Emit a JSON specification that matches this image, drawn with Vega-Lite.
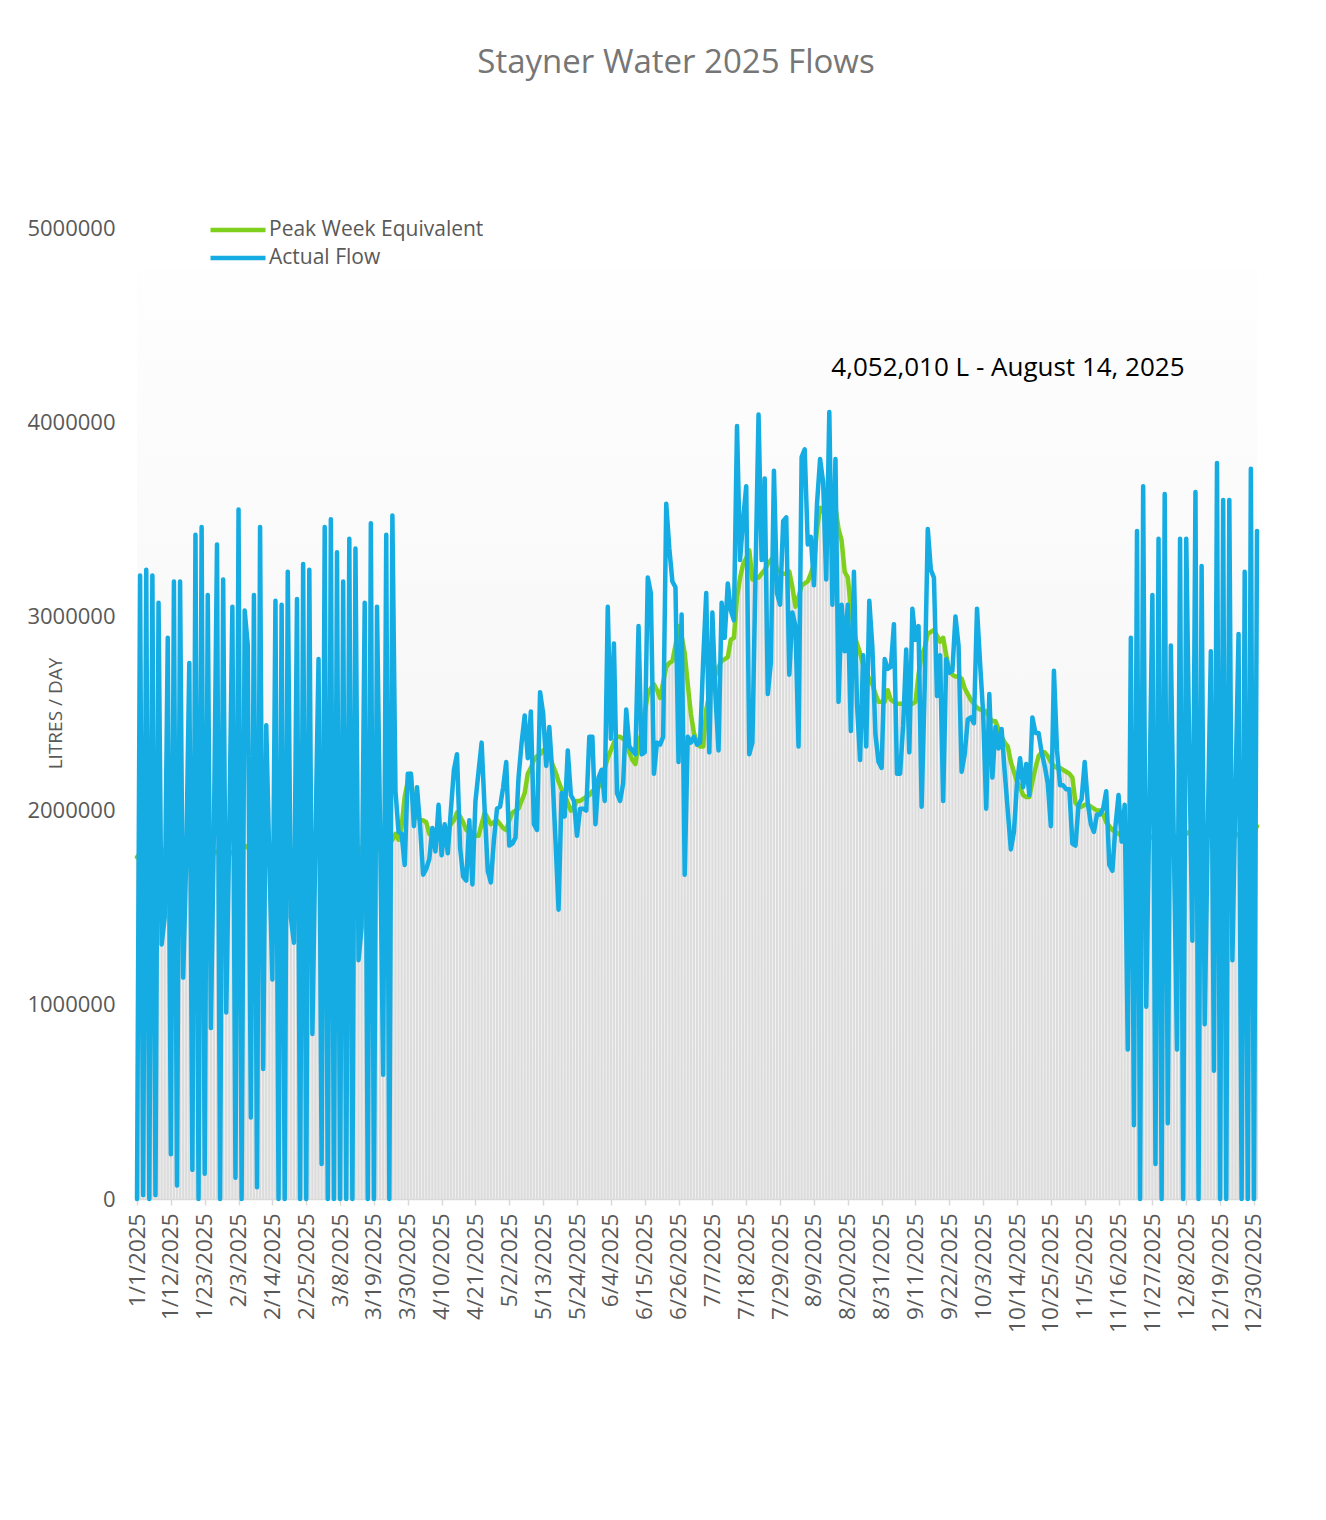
{
"$schema": "https://vega.github.io/schema/vega-lite/v6.json",
"width": 1120,
"height": 971,
"autosize": {"type": "none"},
"padding": {"left": 137, "top": 228, "right": 69, "bottom": 321},
"background": "white",
"config": {"view": {"stroke": null, "fill": {"gradient": "linear", "x1": 0, "y1": 0, "x2": 0, "y2": 1, "stops": [{"offset": 0, "color": "#ffffff"}, {"offset": 0.043, "color": "#ffffff"}, {"offset": 0.044, "color": "#fefefe"}, {"offset": 1, "color": "#f1f1f1"}]}}, "font": "Open Sans"},
"title": {"text": "Stayner Water 2025 Flows", "fontSize": 33, "font": "Open Sans", "fontWeight": "normal", "color": "#767676", "anchor": "middle", "offset": 137, "dx": -21},
"data": {"values": [
{"date":"1/1/2025","actual":0,"peak":1760000},
{"date":"1/2/2025","actual":3210000,"peak":1780000},
{"date":"1/3/2025","actual":20000,"peak":1800000},
{"date":"1/4/2025","actual":3240000,"peak":1810000},
{"date":"1/5/2025","actual":0,"peak":1800000},
{"date":"1/6/2025","actual":3210000,"peak":1790000},
{"date":"1/7/2025","actual":20000,"peak":1780000},
{"date":"1/8/2025","actual":3070000,"peak":1770000},
{"date":"1/9/2025","actual":1310000,"peak":1780000},
{"date":"1/10/2025","actual":1450000,"peak":1800000},
{"date":"1/11/2025","actual":2890000,"peak":1810000},
{"date":"1/12/2025","actual":230000,"peak":1800000},
{"date":"1/13/2025","actual":3180000,"peak":1790000},
{"date":"1/14/2025","actual":70000,"peak":1780000},
{"date":"1/15/2025","actual":3180000,"peak":1790000},
{"date":"1/16/2025","actual":1140000,"peak":1800000},
{"date":"1/17/2025","actual":1750000,"peak":1810000},
{"date":"1/18/2025","actual":2760000,"peak":1800000},
{"date":"1/19/2025","actual":150000,"peak":1790000},
{"date":"1/20/2025","actual":3420000,"peak":1780000},
{"date":"1/21/2025","actual":0,"peak":1790000},
{"date":"1/22/2025","actual":3460000,"peak":1800000},
{"date":"1/23/2025","actual":130000,"peak":1810000},
{"date":"1/24/2025","actual":3110000,"peak":1800000},
{"date":"1/25/2025","actual":880000,"peak":1790000},
{"date":"1/26/2025","actual":1900000,"peak":1780000},
{"date":"1/27/2025","actual":3370000,"peak":1790000},
{"date":"1/28/2025","actual":0,"peak":1800000},
{"date":"1/29/2025","actual":3190000,"peak":1810000},
{"date":"1/30/2025","actual":960000,"peak":1800000},
{"date":"1/31/2025","actual":1900000,"peak":1790000},
{"date":"2/1/2025","actual":3050000,"peak":1780000},
{"date":"2/2/2025","actual":110000,"peak":1790000},
{"date":"2/3/2025","actual":3550000,"peak":1800000},
{"date":"2/4/2025","actual":0,"peak":1810000},
{"date":"2/5/2025","actual":3030000,"peak":1820000},
{"date":"2/6/2025","actual":2850000,"peak":1810000},
{"date":"2/7/2025","actual":420000,"peak":1800000},
{"date":"2/8/2025","actual":3110000,"peak":1790000},
{"date":"2/9/2025","actual":60000,"peak":1780000},
{"date":"2/10/2025","actual":3460000,"peak":1790000},
{"date":"2/11/2025","actual":670000,"peak":1800000},
{"date":"2/12/2025","actual":2440000,"peak":1810000},
{"date":"2/13/2025","actual":1750000,"peak":1800000},
{"date":"2/14/2025","actual":1130000,"peak":1790000},
{"date":"2/15/2025","actual":3080000,"peak":1780000},
{"date":"2/16/2025","actual":0,"peak":1790000},
{"date":"2/17/2025","actual":3060000,"peak":1800000},
{"date":"2/18/2025","actual":0,"peak":1810000},
{"date":"2/19/2025","actual":3230000,"peak":1800000},
{"date":"2/20/2025","actual":1450000,"peak":1790000},
{"date":"2/21/2025","actual":1320000,"peak":1780000},
{"date":"2/22/2025","actual":3090000,"peak":1790000},
{"date":"2/23/2025","actual":0,"peak":1800000},
{"date":"2/24/2025","actual":3270000,"peak":1810000},
{"date":"2/25/2025","actual":0,"peak":1800000},
{"date":"2/26/2025","actual":3240000,"peak":1790000},
{"date":"2/27/2025","actual":850000,"peak":1780000},
{"date":"2/28/2025","actual":1850000,"peak":1790000},
{"date":"3/1/2025","actual":2780000,"peak":1800000},
{"date":"3/2/2025","actual":180000,"peak":1810000},
{"date":"3/3/2025","actual":3460000,"peak":1800000},
{"date":"3/4/2025","actual":0,"peak":1790000},
{"date":"3/5/2025","actual":3500000,"peak":1780000},
{"date":"3/6/2025","actual":0,"peak":1790000},
{"date":"3/7/2025","actual":3330000,"peak":1800000},
{"date":"3/8/2025","actual":0,"peak":1810000},
{"date":"3/9/2025","actual":3180000,"peak":1800000},
{"date":"3/10/2025","actual":0,"peak":1790000},
{"date":"3/11/2025","actual":3400000,"peak":1780000},
{"date":"3/12/2025","actual":0,"peak":1790000},
{"date":"3/13/2025","actual":3350000,"peak":1800000},
{"date":"3/14/2025","actual":1230000,"peak":1810000},
{"date":"3/15/2025","actual":1400000,"peak":1800000},
{"date":"3/16/2025","actual":3070000,"peak":1790000},
{"date":"3/17/2025","actual":0,"peak":1800000},
{"date":"3/18/2025","actual":3480000,"peak":1810000},
{"date":"3/19/2025","actual":0,"peak":1820000},
{"date":"3/20/2025","actual":3050000,"peak":1810000},
{"date":"3/21/2025","actual":1900000,"peak":1800000},
{"date":"3/22/2025","actual":640000,"peak":1810000},
{"date":"3/23/2025","actual":3420000,"peak":1820000},
{"date":"3/24/2025","actual":0,"peak":1830000},
{"date":"3/25/2025","actual":3520000,"peak":1850000},
{"date":"3/26/2025","actual":2100000,"peak":1880000},
{"date":"3/27/2025","actual":1890000,"peak":1850000},
{"date":"3/28/2025","actual":1880000,"peak":1920000},
{"date":"3/29/2025","actual":1720000,"peak":2070000},
{"date":"3/30/2025","actual":2190000,"peak":2150000},
{"date":"3/31/2025","actual":2190000,"peak":2190000},
{"date":"4/1/2025","actual":1920000,"peak":2000000},
{"date":"4/2/2025","actual":2120000,"peak":1970000},
{"date":"4/3/2025","actual":1920000,"peak":1950000},
{"date":"4/4/2025","actual":1670000,"peak":1950000},
{"date":"4/5/2025","actual":1700000,"peak":1940000},
{"date":"4/6/2025","actual":1750000,"peak":1880000},
{"date":"4/7/2025","actual":1910000,"peak":1870000},
{"date":"4/8/2025","actual":1790000,"peak":1870000},
{"date":"4/9/2025","actual":2030000,"peak":1870000},
{"date":"4/10/2025","actual":1770000,"peak":1880000},
{"date":"4/11/2025","actual":1930000,"peak":1880000},
{"date":"4/12/2025","actual":1780000,"peak":1900000},
{"date":"4/13/2025","actual":2000000,"peak":1930000},
{"date":"4/14/2025","actual":2210000,"peak":1950000},
{"date":"4/15/2025","actual":2290000,"peak":1990000},
{"date":"4/16/2025","actual":1810000,"peak":1970000},
{"date":"4/17/2025","actual":1660000,"peak":1940000},
{"date":"4/18/2025","actual":1640000,"peak":1900000},
{"date":"4/19/2025","actual":1950000,"peak":1890000},
{"date":"4/20/2025","actual":1620000,"peak":1870000},
{"date":"4/21/2025","actual":2050000,"peak":1870000},
{"date":"4/22/2025","actual":2200000,"peak":1870000},
{"date":"4/23/2025","actual":2350000,"peak":1930000},
{"date":"4/24/2025","actual":2000000,"peak":1990000},
{"date":"4/25/2025","actual":1690000,"peak":1960000},
{"date":"4/26/2025","actual":1630000,"peak":1930000},
{"date":"4/27/2025","actual":1850000,"peak":1940000},
{"date":"4/28/2025","actual":2010000,"peak":1950000},
{"date":"4/29/2025","actual":2020000,"peak":1930000},
{"date":"4/30/2025","actual":2120000,"peak":1910000},
{"date":"5/1/2025","actual":2250000,"peak":1900000},
{"date":"5/2/2025","actual":1820000,"peak":1950000},
{"date":"5/3/2025","actual":1830000,"peak":1990000},
{"date":"5/4/2025","actual":1860000,"peak":2000000},
{"date":"5/5/2025","actual":2170000,"peak":2010000},
{"date":"5/6/2025","actual":2350000,"peak":2050000},
{"date":"5/7/2025","actual":2490000,"peak":2090000},
{"date":"5/8/2025","actual":2270000,"peak":2190000},
{"date":"5/9/2025","actual":2510000,"peak":2220000},
{"date":"5/10/2025","actual":1930000,"peak":2260000},
{"date":"5/11/2025","actual":1900000,"peak":2280000},
{"date":"5/12/2025","actual":2610000,"peak":2290000},
{"date":"5/13/2025","actual":2500000,"peak":2310000},
{"date":"5/14/2025","actual":2230000,"peak":2300000},
{"date":"5/15/2025","actual":2430000,"peak":2280000},
{"date":"5/16/2025","actual":2190000,"peak":2240000},
{"date":"5/17/2025","actual":1850000,"peak":2200000},
{"date":"5/18/2025","actual":1490000,"peak":2150000},
{"date":"5/19/2025","actual":2090000,"peak":2110000},
{"date":"5/20/2025","actual":1970000,"peak":2080000},
{"date":"5/21/2025","actual":2310000,"peak":2040000},
{"date":"5/22/2025","actual":2080000,"peak":2000000},
{"date":"5/23/2025","actual":2050000,"peak":2020000},
{"date":"5/24/2025","actual":1870000,"peak":2050000},
{"date":"5/25/2025","actual":2010000,"peak":2050000},
{"date":"5/26/2025","actual":2010000,"peak":2060000},
{"date":"5/27/2025","actual":2000000,"peak":2070000},
{"date":"5/28/2025","actual":2380000,"peak":2080000},
{"date":"5/29/2025","actual":2380000,"peak":2100000},
{"date":"5/30/2025","actual":1930000,"peak":2110000},
{"date":"5/31/2025","actual":2170000,"peak":2120000},
{"date":"6/1/2025","actual":2210000,"peak":2170000},
{"date":"6/2/2025","actual":2050000,"peak":2220000},
{"date":"6/3/2025","actual":3050000,"peak":2270000},
{"date":"6/4/2025","actual":2370000,"peak":2310000},
{"date":"6/5/2025","actual":2860000,"peak":2350000},
{"date":"6/6/2025","actual":2090000,"peak":2380000},
{"date":"6/7/2025","actual":2050000,"peak":2380000},
{"date":"6/8/2025","actual":2140000,"peak":2370000},
{"date":"6/9/2025","actual":2520000,"peak":2360000},
{"date":"6/10/2025","actual":2330000,"peak":2300000},
{"date":"6/11/2025","actual":2310000,"peak":2260000},
{"date":"6/12/2025","actual":2290000,"peak":2240000},
{"date":"6/13/2025","actual":2950000,"peak":2350000},
{"date":"6/14/2025","actual":2290000,"peak":2400000},
{"date":"6/15/2025","actual":2300000,"peak":2500000},
{"date":"6/16/2025","actual":3200000,"peak":2600000},
{"date":"6/17/2025","actual":3120000,"peak":2630000},
{"date":"6/18/2025","actual":2190000,"peak":2650000},
{"date":"6/19/2025","actual":2350000,"peak":2620000},
{"date":"6/20/2025","actual":2340000,"peak":2580000},
{"date":"6/21/2025","actual":2380000,"peak":2660000},
{"date":"6/22/2025","actual":3580000,"peak":2740000},
{"date":"6/23/2025","actual":3350000,"peak":2760000},
{"date":"6/24/2025","actual":3180000,"peak":2770000},
{"date":"6/25/2025","actual":3150000,"peak":2850000},
{"date":"6/26/2025","actual":2250000,"peak":2950000},
{"date":"6/27/2025","actual":3010000,"peak":2900000},
{"date":"6/28/2025","actual":1670000,"peak":2810000},
{"date":"6/29/2025","actual":2380000,"peak":2650000},
{"date":"6/30/2025","actual":2350000,"peak":2500000},
{"date":"7/1/2025","actual":2380000,"peak":2400000},
{"date":"7/2/2025","actual":2340000,"peak":2350000},
{"date":"7/3/2025","actual":2350000,"peak":2330000},
{"date":"7/4/2025","actual":2770000,"peak":2330000},
{"date":"7/5/2025","actual":3120000,"peak":2520000},
{"date":"7/6/2025","actual":2300000,"peak":2600000},
{"date":"7/7/2025","actual":3020000,"peak":2650000},
{"date":"7/8/2025","actual":2590000,"peak":2700000},
{"date":"7/9/2025","actual":2310000,"peak":2740000},
{"date":"7/10/2025","actual":3070000,"peak":2770000},
{"date":"7/11/2025","actual":2890000,"peak":2780000},
{"date":"7/12/2025","actual":3170000,"peak":2790000},
{"date":"7/13/2025","actual":3030000,"peak":2880000},
{"date":"7/14/2025","actual":2980000,"peak":2890000},
{"date":"7/15/2025","actual":3980000,"peak":3100000},
{"date":"7/16/2025","actual":3290000,"peak":3200000},
{"date":"7/17/2025","actual":3500000,"peak":3270000},
{"date":"7/18/2025","actual":3670000,"peak":3300000},
{"date":"7/19/2025","actual":2290000,"peak":3340000},
{"date":"7/20/2025","actual":2350000,"peak":3190000},
{"date":"7/21/2025","actual":3200000,"peak":3200000},
{"date":"7/22/2025","actual":4040000,"peak":3200000},
{"date":"7/23/2025","actual":3290000,"peak":3220000},
{"date":"7/24/2025","actual":3710000,"peak":3240000},
{"date":"7/25/2025","actual":2600000,"peak":3270000},
{"date":"7/26/2025","actual":2760000,"peak":3290000},
{"date":"7/27/2025","actual":3750000,"peak":3310000},
{"date":"7/28/2025","actual":3120000,"peak":3240000},
{"date":"7/29/2025","actual":3060000,"peak":3230000},
{"date":"7/30/2025","actual":3490000,"peak":3220000},
{"date":"7/31/2025","actual":3510000,"peak":3220000},
{"date":"8/1/2025","actual":2700000,"peak":3230000},
{"date":"8/2/2025","actual":3020000,"peak":3150000},
{"date":"8/3/2025","actual":2950000,"peak":3050000},
{"date":"8/4/2025","actual":2330000,"peak":3100000},
{"date":"8/5/2025","actual":3820000,"peak":3160000},
{"date":"8/6/2025","actual":3860000,"peak":3170000},
{"date":"8/7/2025","actual":3370000,"peak":3180000},
{"date":"8/8/2025","actual":3410000,"peak":3220000},
{"date":"8/9/2025","actual":3160000,"peak":3270000},
{"date":"8/10/2025","actual":3580000,"peak":3450000},
{"date":"8/11/2025","actual":3810000,"peak":3560000},
{"date":"8/12/2025","actual":3690000,"peak":3540000},
{"date":"8/13/2025","actual":3190000,"peak":3530000},
{"date":"8/14/2025","actual":4052010,"peak":3540000},
{"date":"8/15/2025","actual":3060000,"peak":3560000},
{"date":"8/16/2025","actual":3810000,"peak":3560000},
{"date":"8/17/2025","actual":2560000,"peak":3450000},
{"date":"8/18/2025","actual":3060000,"peak":3390000},
{"date":"8/19/2025","actual":2820000,"peak":3230000},
{"date":"8/20/2025","actual":3060000,"peak":3200000},
{"date":"8/21/2025","actual":2410000,"peak":3050000},
{"date":"8/22/2025","actual":3230000,"peak":2910000},
{"date":"8/23/2025","actual":2550000,"peak":2860000},
{"date":"8/24/2025","actual":2260000,"peak":2810000},
{"date":"8/25/2025","actual":2800000,"peak":2750000},
{"date":"8/26/2025","actual":2330000,"peak":2710000},
{"date":"8/27/2025","actual":3080000,"peak":2680000},
{"date":"8/28/2025","actual":2840000,"peak":2650000},
{"date":"8/29/2025","actual":2390000,"peak":2600000},
{"date":"8/30/2025","actual":2250000,"peak":2560000},
{"date":"8/31/2025","actual":2220000,"peak":2560000},
{"date":"9/1/2025","actual":2780000,"peak":2560000},
{"date":"9/2/2025","actual":2730000,"peak":2620000},
{"date":"9/3/2025","actual":2740000,"peak":2570000},
{"date":"9/4/2025","actual":2960000,"peak":2560000},
{"date":"9/5/2025","actual":2190000,"peak":2550000},
{"date":"9/6/2025","actual":2190000,"peak":2550000},
{"date":"9/7/2025","actual":2440000,"peak":2550000},
{"date":"9/8/2025","actual":2830000,"peak":2550000},
{"date":"9/9/2025","actual":2300000,"peak":2550000},
{"date":"9/10/2025","actual":3040000,"peak":2550000},
{"date":"9/11/2025","actual":2880000,"peak":2560000},
{"date":"9/12/2025","actual":2950000,"peak":2700000},
{"date":"9/13/2025","actual":2020000,"peak":2800000},
{"date":"9/14/2025","actual":2640000,"peak":2840000},
{"date":"9/15/2025","actual":3450000,"peak":2910000},
{"date":"9/16/2025","actual":3240000,"peak":2920000},
{"date":"9/17/2025","actual":3200000,"peak":2930000},
{"date":"9/18/2025","actual":2590000,"peak":2900000},
{"date":"9/19/2025","actual":2800000,"peak":2870000},
{"date":"9/20/2025","actual":2050000,"peak":2890000},
{"date":"9/21/2025","actual":2780000,"peak":2800000},
{"date":"9/22/2025","actual":2710000,"peak":2720000},
{"date":"9/23/2025","actual":2720000,"peak":2700000},
{"date":"9/24/2025","actual":3000000,"peak":2690000},
{"date":"9/25/2025","actual":2850000,"peak":2690000},
{"date":"9/26/2025","actual":2200000,"peak":2680000},
{"date":"9/27/2025","actual":2290000,"peak":2630000},
{"date":"9/28/2025","actual":2470000,"peak":2600000},
{"date":"9/29/2025","actual":2480000,"peak":2570000},
{"date":"9/30/2025","actual":2450000,"peak":2550000},
{"date":"10/1/2025","actual":3040000,"peak":2530000},
{"date":"10/2/2025","actual":2760000,"peak":2520000},
{"date":"10/3/2025","actual":2500000,"peak":2520000},
{"date":"10/4/2025","actual":2010000,"peak":2510000},
{"date":"10/5/2025","actual":2600000,"peak":2480000},
{"date":"10/6/2025","actual":2170000,"peak":2460000},
{"date":"10/7/2025","actual":2430000,"peak":2460000},
{"date":"10/8/2025","actual":2320000,"peak":2420000},
{"date":"10/9/2025","actual":2420000,"peak":2380000},
{"date":"10/10/2025","actual":2200000,"peak":2350000},
{"date":"10/11/2025","actual":2000000,"peak":2330000},
{"date":"10/12/2025","actual":1800000,"peak":2250000},
{"date":"10/13/2025","actual":1890000,"peak":2200000},
{"date":"10/14/2025","actual":2140000,"peak":2150000},
{"date":"10/15/2025","actual":2270000,"peak":2120000},
{"date":"10/16/2025","actual":2120000,"peak":2080000},
{"date":"10/17/2025","actual":2240000,"peak":2070000},
{"date":"10/18/2025","actual":2080000,"peak":2070000},
{"date":"10/19/2025","actual":2480000,"peak":2150000},
{"date":"10/20/2025","actual":2400000,"peak":2220000},
{"date":"10/21/2025","actual":2400000,"peak":2280000},
{"date":"10/22/2025","actual":2300000,"peak":2300000},
{"date":"10/23/2025","actual":2230000,"peak":2300000},
{"date":"10/24/2025","actual":2140000,"peak":2280000},
{"date":"10/25/2025","actual":1920000,"peak":2250000},
{"date":"10/26/2025","actual":2720000,"peak":2230000},
{"date":"10/27/2025","actual":2310000,"peak":2220000},
{"date":"10/28/2025","actual":2130000,"peak":2220000},
{"date":"10/29/2025","actual":2130000,"peak":2210000},
{"date":"10/30/2025","actual":2110000,"peak":2200000},
{"date":"10/31/2025","actual":2110000,"peak":2190000},
{"date":"11/1/2025","actual":1830000,"peak":2170000},
{"date":"11/2/2025","actual":1820000,"peak":2040000},
{"date":"11/3/2025","actual":2030000,"peak":2020000},
{"date":"11/4/2025","actual":2060000,"peak":2020000},
{"date":"11/5/2025","actual":2250000,"peak":2030000},
{"date":"11/6/2025","actual":2040000,"peak":2030000},
{"date":"11/7/2025","actual":1930000,"peak":2020000},
{"date":"11/8/2025","actual":1890000,"peak":2010000},
{"date":"11/9/2025","actual":1980000,"peak":2000000},
{"date":"11/10/2025","actual":1980000,"peak":2000000},
{"date":"11/11/2025","actual":2010000,"peak":1980000},
{"date":"11/12/2025","actual":2100000,"peak":1940000},
{"date":"11/13/2025","actual":1720000,"peak":1920000},
{"date":"11/14/2025","actual":1690000,"peak":1900000},
{"date":"11/15/2025","actual":1920000,"peak":1890000},
{"date":"11/16/2025","actual":2080000,"peak":1880000},
{"date":"11/17/2025","actual":1840000,"peak":1870000},
{"date":"11/18/2025","actual":2030000,"peak":1870000},
{"date":"11/19/2025","actual":770000,"peak":1860000},
{"date":"11/20/2025","actual":2890000,"peak":1860000},
{"date":"11/21/2025","actual":380000,"peak":1870000},
{"date":"11/22/2025","actual":3440000,"peak":1880000},
{"date":"11/23/2025","actual":0,"peak":1880000},
{"date":"11/24/2025","actual":3670000,"peak":1890000},
{"date":"11/25/2025","actual":990000,"peak":1880000},
{"date":"11/26/2025","actual":2000000,"peak":1870000},
{"date":"11/27/2025","actual":3110000,"peak":1860000},
{"date":"11/28/2025","actual":180000,"peak":1860000},
{"date":"11/29/2025","actual":3400000,"peak":1870000},
{"date":"11/30/2025","actual":0,"peak":1880000},
{"date":"12/1/2025","actual":3630000,"peak":1880000},
{"date":"12/2/2025","actual":390000,"peak":1890000},
{"date":"12/3/2025","actual":2850000,"peak":1880000},
{"date":"12/4/2025","actual":1800000,"peak":1870000},
{"date":"12/5/2025","actual":770000,"peak":1860000},
{"date":"12/6/2025","actual":3400000,"peak":1860000},
{"date":"12/7/2025","actual":0,"peak":1870000},
{"date":"12/8/2025","actual":3400000,"peak":1880000},
{"date":"12/9/2025","actual":2300000,"peak":1890000},
{"date":"12/10/2025","actual":1330000,"peak":1900000},
{"date":"12/11/2025","actual":3640000,"peak":1890000},
{"date":"12/12/2025","actual":0,"peak":1880000},
{"date":"12/13/2025","actual":3260000,"peak":1870000},
{"date":"12/14/2025","actual":900000,"peak":1860000},
{"date":"12/15/2025","actual":1900000,"peak":1870000},
{"date":"12/16/2025","actual":2820000,"peak":1880000},
{"date":"12/17/2025","actual":660000,"peak":1890000},
{"date":"12/18/2025","actual":3790000,"peak":1900000},
{"date":"12/19/2025","actual":0,"peak":1890000},
{"date":"12/20/2025","actual":3600000,"peak":1880000},
{"date":"12/21/2025","actual":0,"peak":1870000},
{"date":"12/22/2025","actual":3600000,"peak":1860000},
{"date":"12/23/2025","actual":1230000,"peak":1860000},
{"date":"12/24/2025","actual":2100000,"peak":1870000},
{"date":"12/25/2025","actual":2910000,"peak":1880000},
{"date":"12/26/2025","actual":0,"peak":1890000},
{"date":"12/27/2025","actual":3230000,"peak":1900000},
{"date":"12/28/2025","actual":0,"peak":1890000},
{"date":"12/29/2025","actual":3760000,"peak":1880000},
{"date":"12/30/2025","actual":0,"peak":1890000},
{"date":"12/31/2025","actual":3440000,"peak":1920000}
]},
"layer": [
{
"mark": {"type": "bar", "width": 2.2, "color": "#dcdcdc"},
"encoding": {
"x": {"field": "date", "type": "ordinal", "sort": null, "scale": {"type": "point", "padding": 0},
"axis": {"values": ["1/1/2025","1/12/2025","1/23/2025","2/3/2025","2/14/2025","2/25/2025","3/8/2025","3/19/2025","3/30/2025","4/10/2025","4/21/2025","5/2/2025","5/13/2025","5/24/2025","6/4/2025","6/15/2025","6/26/2025","7/7/2025","7/18/2025","7/29/2025","8/9/2025","8/20/2025","8/31/2025","9/11/2025","9/22/2025","10/3/2025","10/14/2025","10/25/2025","11/5/2025","11/16/2025","11/27/2025","12/8/2025","12/19/2025","12/30/2025"],
"title": null, "labelAngle": -90, "labelAlign": "right", "labelBaseline": "middle", "labelFontSize": 22.5, "labelColor": "#595959", "labelPadding": 8, "tickColor": "#d9d9d9", "tickSize": 6, "tickWidth": 1.5, "domainColor": "#d9d9d9", "domainWidth": 1.5, "grid": false, "labelOverlap": false}},
"y": {"field": "peak", "type": "quantitative", "title": "LITRES / DAY", "scale": {"domain": [0, 5000000], "nice": false},
"axis": {"values": [0, 1000000, 2000000, 3000000, 4000000, 5000000], "format": "d", "labelFontSize": 22, "labelColor": "#595959", "labelPadding": 22, "ticks": false, "domain": false, "grid": false, "titleFontSize": 19, "titleFontWeight": "normal", "titleColor": "#595959", "titleX": -82, "titleY": 485, "titleAngle": -90, "titleAlign": "center", "titleBaseline": "middle"}}
}
},
{
"mark": {"type": "line", "strokeWidth": 4.5, "strokeJoin": "round", "strokeCap": "round"},
"encoding": {
"x": {"field": "date", "type": "ordinal", "sort": null},
"y": {"field": "peak", "type": "quantitative", "title": "LITRES / DAY"},
"color": {"datum": "Peak Week Equivalent", "scale": {"domain": ["Peak Week Equivalent", "Actual Flow"], "range": ["#7fd01c", "#14ace2"]},
"legend": {"title": null, "orient": "none", "legendX": 71, "legendY": -9, "symbolType": "stroke", "symbolSize": 3025, "symbolStrokeWidth": 4.5, "clipHeight": 22, "rowPadding": 6, "labelFontSize": 21, "labelColor": "#595959", "labelOffset": 1, "labelLimit": 500, "padding": 0}}
}
},
{
"mark": {"type": "line", "strokeWidth": 4.5, "strokeJoin": "round", "strokeCap": "round"},
"encoding": {
"x": {"field": "date", "type": "ordinal", "sort": null},
"y": {"field": "actual", "type": "quantitative", "title": "LITRES / DAY"},
"color": {"datum": "Actual Flow"}
}
},
{
"data": {"values": [{"date": "8/14/2025", "level": 4280000, "label": "4,052,010 L - August 14, 2025"}]},
"mark": {"type": "text", "align": "left", "baseline": "middle", "fontSize": 26, "font": "Open Sans", "color": "#000000", "dx": 2},
"encoding": {
"x": {"field": "date", "type": "ordinal", "sort": null},
"y": {"field": "level", "type": "quantitative"},
"text": {"field": "label"}
}
}
]
}
